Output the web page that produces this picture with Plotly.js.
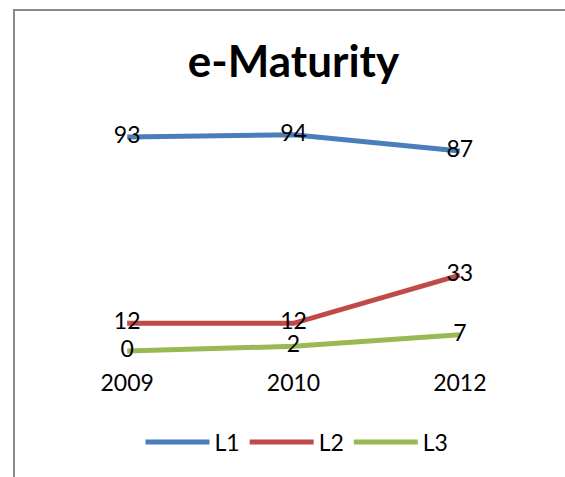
<!DOCTYPE html>
<html>
<head>
<meta charset="utf-8">
<script src="https://cdn.plot.ly/plotly-3.0.1.min.js"></script>
<style>
  html, body { margin: 0; padding: 0; background: #fff; overflow: hidden; }
  #chart { width: 565px; height: 477px; }
</style>
</head>
<body>
<div id="chart"></div>
<script>
const years = ["2009", "2010", "2012"];
const seriesNames = ["L1", "L2", "L3"];
const L1 = [93, 94, 87];
const L2 = [12, 12, 33];
const L3 = [0, 2, 7];
const colors = ["#4A7EBB", "#BE4B48", "#98B954"];

const FONT = "Lato, 'Open Sans', 'DejaVu Sans', sans-serif";
const allSeries = [L1, L2, L3];

const traces = allSeries.map((vals, i) => ({
  type: "scatter",
  mode: "lines+text",
  name: seriesNames[i],
  x: years,
  y: vals,
  text: vals.map(String),
  textposition: "middle center",
  textfont: { family: FONT, size: 23, color: "#000" },
  line: { color: colors[i], width: 5 },
  hoverinfo: "skip",
  cliponaxis: false
}));

// chart-area frame (only left and top edges are visible in the reference)
const W = 565, H = 477, ML = 44, MR = 22, MT = 121, MB = 110;
const pw = W - ML - MR, ph = H - MT - MB;
const px = v => (v - ML) / pw;
const py = v => (H - MB - v) / ph;
const frameStyle = { color: "#898989", width: 2 };

const layout = {
  width: W,
  height: H,
  margin: { l: ML, r: MR, t: MT, b: MB },
  paper_bgcolor: "#fff",
  plot_bgcolor: "#fff",
  font: { family: FONT, color: "#000" },
  title: {
    text: "<b>e-Maturity</b>",
    font: { family: FONT, size: 44, color: "#000" },
    x: 0.5, xref: "paper", xanchor: "center",
    y: 1 - 62 / 477, yref: "container", yanchor: "middle"
  },
  xaxis: {
    type: "category",
    range: [-0.5, 2.5],
    showgrid: false, zeroline: false, showline: false, ticks: "",
    tickfont: { family: FONT, size: 23, color: "#000" }
  },
  yaxis: {
    range: [-7, 100],
    visible: false
  },
  shapes: [
    { type: "line", xref: "paper", yref: "paper", x0: px(14), x1: px(14), y0: py(9), y1: py(490), line: frameStyle },
    { type: "line", xref: "paper", yref: "paper", x0: px(13), x1: px(580), y0: py(10), y1: py(10), line: frameStyle }
  ],
  showlegend: true,
  legend: {
    orientation: "h",
    x: 0.507, xanchor: "center",
    y: -0.305, yanchor: "middle",
    itemwidth: 64,
    font: { family: FONT, size: 23, color: "#000" },
    bgcolor: "rgba(0,0,0,0)"
  }
};

Plotly.newPlot("chart", traces, layout, { displayModeBar: false, staticPlot: true });
</script>
</body>
</html>
